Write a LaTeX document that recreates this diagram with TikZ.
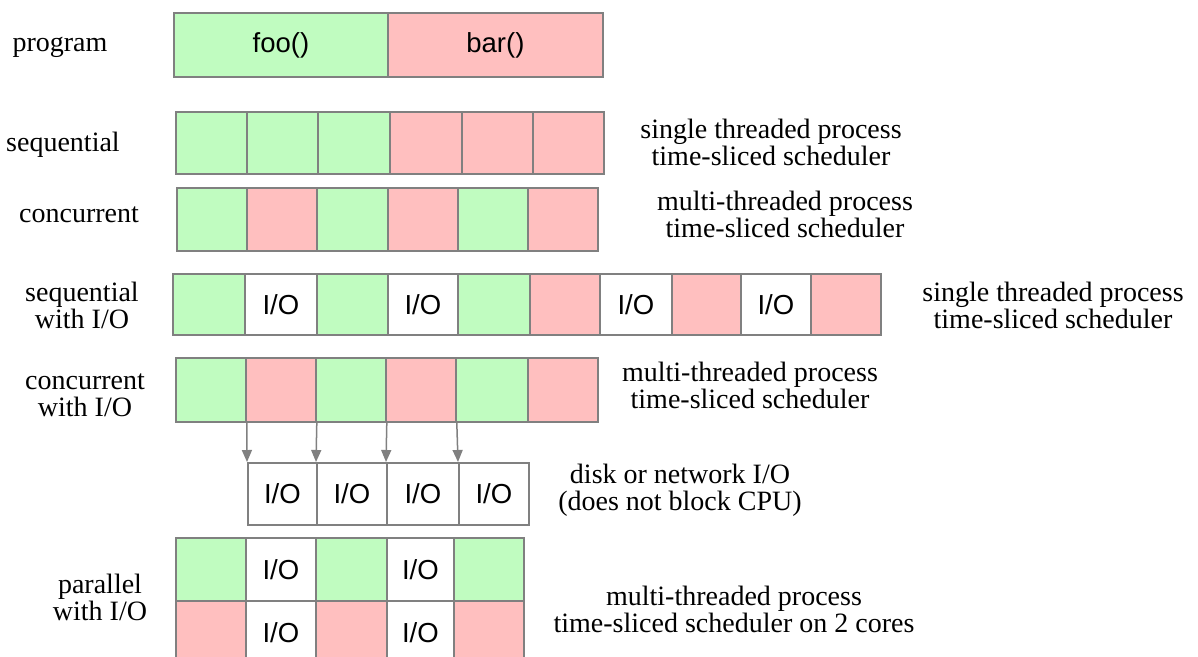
\documentclass[tikz,border=0pt]{standalone}
\usepackage{fontspec}
\setmainfont{Liberation Serif}
\setsansfont{Liberation Sans}
\usetikzlibrary{arrows.meta}
\definecolor{gfill}{HTML}{C0FCC0}
\definecolor{rfill}{HTML}{FFBFBF}
\definecolor{edgec}{HTML}{808080}
\begin{document}
\begin{tikzpicture}[x=1pt,y=-1pt,
 cellbase/.style={draw=edgec, line width=1.8pt, anchor=north west, inner sep=0pt, font=\sffamily\fontsize{27.5}{27}\selectfont},
 gc/.style={cellbase, fill=gfill},
 rc/.style={cellbase, fill=rfill},
 wc/.style={cellbase, fill=white},
 lbl/.style={align=center, font=\fontsize{28}{27}\selectfont, inner sep=0pt},
 arr/.style={draw=edgec, line width=1.5pt, -{Triangle[length=12pt,width=10pt]}}]
\useasboundingbox[fill=white] (0,0) rectangle (1198,656);
\begin{scope}
\clip (0,0) rectangle (1198,656);
% program
\node[gc, minimum width=214, minimum height=64] (foo) at (173,12) {foo()};
\node[rc, minimum width=215, minimum height=64] (bar) at (387,12) {bar()};
% sequential
\foreach \x/\w/\s [count=\i] in {175/71/gc,246/71/gc,317/72/gc,389/72/rc,461/71/rc,532/71/rc}
  \node[\s, minimum width=\w, minimum height=62] (sq\i) at (\x,111) {};
% concurrent
\foreach \x/\w/\s [count=\i] in {176/70/gc,246/70/rc,316/71/gc,387/70/rc,457/70/gc,527/70/rc}
  \node[\s, minimum width=\w, minimum height=63] (cc\i) at (\x,187) {};
% sequential with I/O
\foreach \x/\w/\s/\t [count=\i] in {172/72/gc/,244/72/wc/I\slash O,316/71/gc/,387/70/wc/I\slash O,457/72/gc/,529/70/rc/,599/72/wc/I\slash O,671/69/rc/,740/70/wc/I\slash O,810/70/rc/}
  \node[\s, minimum width=\w, minimum height=61] (si\i) at (\x,273) {\t};
% concurrent with I/O
\foreach \x/\w/\s [count=\i] in {175/70/gc,245/70/rc,315/70/gc,385/70/rc,455/72/gc,527/70/rc}
  \node[\s, minimum width=\w, minimum height=64] (ci\i) at (\x,357) {};
% disk / network I/O
\foreach \x/\w [count=\i] in {247/69,316/70,386/72,458/70}
  \node[wc, minimum width=\w, minimum height=62] (dio\i) at (\x,462) {I\slash O};
% parallel
\foreach \x/\w/\s/\t [count=\i] in {175/70/gc/,245/70/wc/I\slash O,315/71/gc/,386/67/wc/I\slash O,453/70/gc/}
  \node[\s, minimum width=\w, minimum height=63] (pt\i) at (\x,537) {\t};
\foreach \x/\w/\s/\t [count=\i] in {175/70/rc/,245/70/wc/I\slash O,315/71/rc/,386/67/wc/I\slash O,453/70/rc/}
  \node[\s, minimum width=\w, minimum height=63] (pb\i) at (\x,600) {\t};
\end{scope}
% arrows
\draw[arr] (ci1.south east) -- (dio1.north west);
\draw[arr] (ci2.south east) -- (dio2.north west);
\draw[arr] (ci3.south east) -- (dio3.north west);
\draw[arr] (ci4.south east) -- (dio4.north west);
% left labels
\node[lbl] (lprog) at (60,47) {program};
\node[lbl] (lseq) at (63,145) {sequential};
\node[lbl] (lconc) at (79,215) {concurrent};
\node[lbl] (lseqio) at (82,305) {sequential\\with I/O};
\node[lbl] (lconcio) at (85,395) {concurrent\\with I/O};
\node[lbl] (lpar) at (100,597) {parallel\\with I/O};
% right labels
\node[lbl] (r1) at (771,142) {single threaded process\\time-sliced scheduler};
\node[lbl] (r2) at (785,214) {multi-threaded process\\time-sliced scheduler};
\node[lbl] (r3) at (1053,305) {single threaded process\\time-sliced scheduler};
\node[lbl] (r4) at (750,385) {multi-threaded process\\time-sliced scheduler};
\node[lbl] (r5) at (680,490) {disk or network I/O\\(does not block CPU)};
\node[lbl] (r6) at (734,609) {multi-threaded process\\time-sliced scheduler on 2 cores};
\end{tikzpicture}
\end{document}
